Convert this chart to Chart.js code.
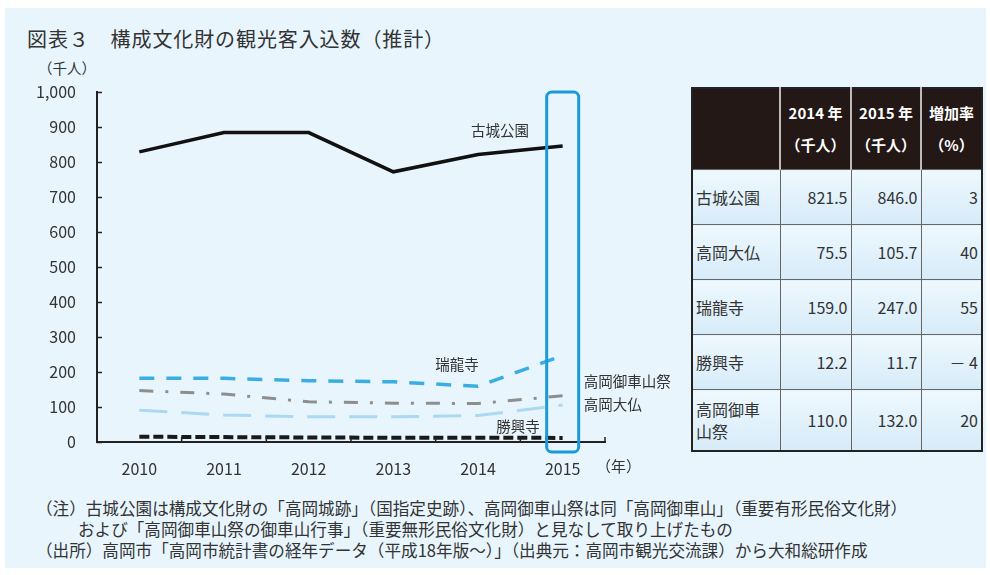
<!DOCTYPE html>
<html lang="ja">
<head>
<meta charset="utf-8">
<script src="https://cdn.jsdelivr.net/npm/chart.js@4.4.1/dist/chart.umd.min.js"></script>
<style>
  html, body { margin:0; padding:0; background:#fff; }
  body { width:990px; height:575px; position:relative; overflow:hidden;
         font-family:"Noto Sans CJK JP","Noto Sans",sans-serif; color:#333; }
  #panel { position:absolute; left:5px; top:8px; width:981px; height:560px; background:#e8f5fd; }
  #title { position:absolute; left:27px; top:24px; font-size:20px; letter-spacing:0.9px; white-space:nowrap; color:#333; }
  #unit { position:absolute; left:38px; top:57px; font-size:14.5px; color:#333; }
  #chartBox { position:absolute; left:0; top:0; width:680px; height:490px; }
  #yearUnit { position:absolute; left:596px; top:455px; font-size:15px; color:#333; }
  table#tbl { position:absolute; left:691px; top:87px; width:292px; table-layout:fixed; border-collapse:collapse;
              border:2px solid #222; font-size:16px; color:#333; }
  #tbl th { background:#231815; color:#fff; font-weight:bold; font-size:15px; line-height:32px;
            border-left:2px solid #bbb; padding:0; text-align:center; height:80px; white-space:nowrap; }
  #tbl th:first-child { border-left:none; }
  #tbl td { border:1px solid #666; padding:0 3px; height:54px;
            background:linear-gradient(#eef8fe,#d6ebf8); }
  #tbl td.name { text-align:left; line-height:22px; }
  #tbl td.num { text-align:right; }
  #notes { position:absolute; left:36px; top:498px; font-size:16.6px; line-height:21px; color:#333; white-space:nowrap; }
  #notes .ind { padding-left:42px; }
</style>
</head>
<body>
<div id="panel"></div>
<div id="title">図表３　構成文化財の観光客入込数（推計）</div>
<div id="unit">（千人）</div>
<div id="chartBox"><canvas id="c" width="680" height="490"></canvas></div>
<div id="yearUnit">（年）</div>
<table id="tbl"></table>
<div id="notes">
  <div>（注）古城公園は構成文化財の「高岡城跡」（国指定史跡）、高岡御車山祭は同「高岡御車山」（重要有形民俗文化財）</div>
  <div class="ind">および「高岡御車山祭の御車山行事」（重要無形民俗文化財）と見なして取り上げたもの</div>
  <div>（出所）高岡市「高岡市統計書の経年データ（平成18年版～）」（出典元：高岡市観光交流課）から大和総研作成</div>
</div>
<script>
// data (千人)
const years = ['2010', '2011', '2012', '2013', '2014', '2015'];
const kojoKoen = [829, 884, 884, 772, 821.5, 846.0];
const zuiryuji = [182, 182, 175, 172, 159.0, 247.0];
const mikurumayama = [147, 137, 115, 111, 110.0, 132.0];
const daibutsu = [91, 77, 72, 72, 75.5, 105.7];
const shokoji = [15, 14, 13, 12, 12.2, 11.7];

// table
const tblNames = ['古城公園', '高岡大仏', '瑞龍寺', '勝興寺', '高岡御車<br>山祭'];
const tbl2014 = ['821.5', '75.5', '159.0', '12.2', '110.0'];
const tbl2015 = ['846.0', '105.7', '247.0', '11.7', '132.0'];
const tblRate = ['3', '40', '55', '－ 4', '20'];

function buildTable(){
  const t = document.getElementById('tbl');
  let html = '<tr><th style="width:86px"></th><th style="width:69px">2014 年<br>（千人）</th>' +
             '<th style="width:68px">2015 年<br>（千人）</th><th>増加率<br>（%）</th></tr>';
  tblNames.forEach((n, i) => {
    const h = i === 4 ? 'style="height:60px"' : '';
    html += `<tr><td class="name" ${h}>${n}</td><td class="num">${tbl2014[i]}</td>` +
            `<td class="num">${tbl2015[i]}</td><td class="num">${tblRate[i]}</td></tr>`;
  });
  t.innerHTML = html;
}
buildTable();

const FONT = '"Noto Sans CJK JP", "Noto Sans", sans-serif';

// inside tick marks + 2015 highlight box + series labels
const decor = {
  id: 'decor',
  afterDatasetsDraw(chart){
    const {ctx, scales:{x, y}} = chart;
    ctx.save();
    // y ticks inside
    ctx.strokeStyle = '#222';
    ctx.lineWidth = 1.5;
    y.ticks.forEach(t => {
      const py = Math.round(y.getPixelForValue(t.value)) + 0.5;
      ctx.beginPath(); ctx.moveTo(y.right, py); ctx.lineTo(y.right + 5, py); ctx.stroke();
    });
    // x ticks at category boundaries
    const bounds = [];
    for (let i = 0; i < years.length - 1; i++) {
      bounds.push((x.getPixelForValue(i) + x.getPixelForValue(i + 1)) / 2);
    }
    bounds.push(x.right);
    bounds.forEach(px => {
      ctx.beginPath(); ctx.moveTo(px, x.top); ctx.lineTo(px, x.top - 5); ctx.stroke();
    });

    // highlight box around 2015
    const cx = x.getPixelForValue(5);
    const top = y.getPixelForValue(1000);
    const bottom = y.getPixelForValue(0) + 10;
    ctx.strokeStyle = '#1a9ad8';
    ctx.lineWidth = 3;
    ctx.beginPath();
    ctx.roundRect(cx - 16, top, 32, bottom - top, 5);
    ctx.stroke();

    // labels
    ctx.fillStyle = '#333';
    ctx.font = '14.5px ' + FONT;
    ctx.textBaseline = 'middle';
    const x14 = x.getPixelForValue(4), x15 = x.getPixelForValue(5);
    ctx.textAlign = 'center';
    ctx.fillText('古城公園', x14 + 22, y.getPixelForValue(kojoKoen[5]) - 15);
    ctx.fillText('瑞龍寺', x14 - 21, y.getPixelForValue(zuiryuji[4]) - 22);
    ctx.fillText('勝興寺', x14 + 40, y.getPixelForValue(shokoji[5]) - 11);
    ctx.textAlign = 'left';
    ctx.fillText('高岡御車山祭', x15 + 21, y.getPixelForValue(mikurumayama[5]) - 14);
    ctx.fillText('高岡大仏', x15 + 21, y.getPixelForValue(daibutsu[5]) - 1);
    ctx.restore();
  }
};

function line(label, data, color, width, dash){
  return {label, data, borderColor: color, borderWidth: width, borderDash: dash,
          pointRadius: 0, tension: 0, fill: false, borderCapStyle: 'butt'};
}

new Chart(document.getElementById('c'), {
  type: 'line',
  data: {
    labels: years,
    datasets: [
      line('勝興寺', shokoji, '#1a1a1a', 4, [10, 4]),
      line('高岡大仏', daibutsu, '#abd9f1', 3, [28, 14]),
      line('高岡御車山祭', mikurumayama, '#8e8e8e', 3, [14, 12, 3, 12]),
      line('瑞龍寺', zuiryuji, '#3aaee2', 3.5, [15, 12]),
      line('古城公園', kojoKoen, '#111', 3.5, [])
    ]
  },
  options: {
    responsive: false,
    animation: false,
    layout: {padding: {top: 92, right: 75, left: 0, bottom: 0}},
    plugins: {legend: {display: false}, tooltip: {enabled: false}},
    scales: {
      x: {
        offset: true,
        grid: {display: false},
        border: {display: true, color: '#222', width: 2},
        ticks: {color: '#333', font: {size: 16, family: FONT, weight: 'normal'}, padding: 9, maxRotation: 0},
        afterFit: s => { s.height = 48; }
      },
      y: {
        min: 0, max: 1000,
        grid: {display: false},
        border: {display: true, color: '#222', width: 2},
        ticks: {stepSize: 100, color: '#333', font: {size: 16, family: FONT, weight: 'normal'}, padding: 13,
                callback: v => v.toLocaleString('en-US')},
        afterFit: s => { s.width = 97; }
      }
    }
  },
  plugins: [decor]
});
</script>
</body>
</html>
